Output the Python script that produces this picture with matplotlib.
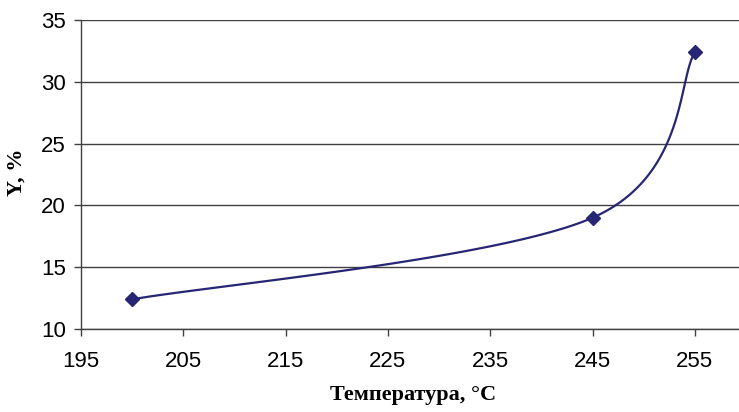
import numpy as np
import matplotlib.pyplot as plt

# data
temperature = [200, 245, 255]
yield_pct = [12.4, 19.0, 32.4]

x_ticks = [195, 205, 215, 225, 235, 245, 255]
y_ticks = [10, 15, 20, 25, 30, 35]

line_color = '#262675'


# Excel-like smoothed line: cubic Bezier segments with Catmull-Rom control points
def smooth_curve(xs, ys, n=60):
    pts = np.column_stack([xs, ys]).astype(float)
    out = []
    for i in range(len(pts) - 1):
        p0 = pts[max(i - 1, 0)]
        p1 = pts[i]
        p2 = pts[i + 1]
        p3 = pts[min(i + 2, len(pts) - 1)]
        c1 = p1 + (p2 - p0) / 6
        c2 = p2 - (p3 - p1) / 6
        t = np.linspace(0, 1, n)[:, None]
        seg = ((1 - t) ** 3) * p1 + 3 * ((1 - t) ** 2) * t * c1 + 3 * (1 - t) * t ** 2 * c2 + t ** 3 * p2
        out.append(seg)
    curve = np.vstack(out)
    return curve[:, 0], curve[:, 1]


fig = plt.figure(figsize=(7.39, 4.12), dpi=100)
W, H = 739, 412
left, right, top, bottom = 81, 746, 20, 329
ax = fig.add_axes([left / W, 1 - bottom / H, (right - left) / W, (bottom - top) / H])

sx, sy = smooth_curve(temperature, yield_pct)
ax.plot(sx, sy, color=line_color, lw=1.6, zorder=3)
ax.plot(temperature, yield_pct, linestyle='none', marker='D', markersize=7,
        color=line_color, zorder=4)

ax.set_xlim(195, 260)
ax.set_ylim(10, 35)
ax.set_xticks(x_ticks)
ax.set_yticks(y_ticks)
ax.grid(axis='y', color='#404040', lw=1.0)
ax.set_axisbelow(True)

for s in ['top', 'right']:
    ax.spines[s].set_visible(False)
for s in ['left', 'bottom']:
    ax.spines[s].set_color('#404040')
    ax.spines[s].set_linewidth(1.0)

ax.tick_params(axis='both', direction='out', length=5, width=1, color='#404040',
               labelsize=16)
for lab in ax.get_xticklabels() + ax.get_yticklabels():
    lab.set_family('Liberation Sans')
ax.tick_params(axis='x', pad=11)
ax.tick_params(axis='y', pad=6)

fig.text(413 / W, 1 - 395 / H, 'Температура, °C', ha='center', va='center',
         family='Liberation Serif', fontweight='bold', fontsize=16)
fig.text(17 / W, 1 - 172 / H, 'Y, %', ha='center', va='center', rotation=90,
         family='Liberation Serif', fontweight='bold', fontsize=16)

fig.savefig('out.png', dpi=100)
